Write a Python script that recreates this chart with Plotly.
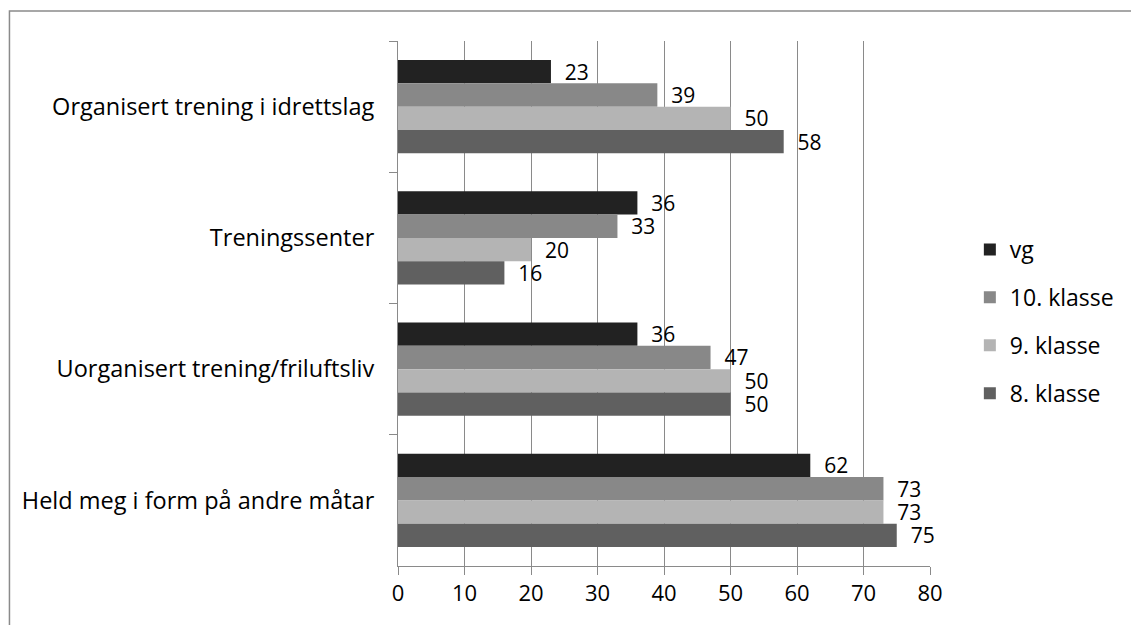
import plotly.graph_objects as go

categories = [
    "Organisert trening i idrettslag",
    "Treningssenter",
    "Uorganisert trening/friluftsliv",
    "Held meg i form på andre måtar",
]
series_names = ["vg", "10. klasse", "9. klasse", "8. klasse"]
vg = [23, 36, 36, 62]
klasse10 = [39, 33, 47, 73]
klasse9 = [50, 20, 50, 73]
klasse8 = [58, 16, 50, 75]
x_ticks = [0, 10, 20, 30, 40, 50, 60, 70, 80]

series_values = [vg, klasse10, klasse9, klasse8]
colors = ["#222222", "#888888", "#b4b4b4", "#606060"]

FONT = "Open Sans"
GRID = "#8a8a8a"

fig = go.Figure()
for name, vals, col in zip(series_names, series_values, colors):
    fig.add_trace(go.Bar(
        y=categories, x=vals, name=name, orientation="h",
        marker=dict(color=col, line=dict(width=0)),
        text=[str(v) for v in vals], textposition="outside",
        texttemplate="  %{x}", constraintext="none",
        textfont=dict(family=FONT, size=21, color="#000000"),
        cliponaxis=False, legendgroup=name,
    ))

W, H = 1131, 625
L, R, T, B = 398, 932, 41, 566
pw, ph = R - L, B - T

def px(x):
    return (x - L) / pw

def py(y):
    return (B - y) / ph

# chart frame: only the top and left edges fall inside the view
fig.add_shape(type="path", xref="paper", yref="paper",
              path=f"M {px(8)},{py(640)} L {px(8)},{py(11)} L {px(1150)},{py(11)}",
              line=dict(color=GRID, width=1.5))

fig.update_layout(
    width=W, height=H,
    margin=dict(l=L, r=W - R, t=T, b=H - B, pad=0),
    paper_bgcolor="white", plot_bgcolor="white",
    barmode="group", bargap=0.29, bargroupgap=0,
    font=dict(family=FONT, size=22, color="#000000"),
    showlegend=True,
    legend=dict(x=px(972), y=py(228), xanchor="left", yanchor="top",
                font=dict(family=FONT, size=23), tracegroupgap=15,
                traceorder="grouped", itemwidth=30),
    xaxis=dict(range=[0, 80], tickvals=x_ticks, showgrid=True, gridcolor=GRID,
               gridwidth=1, ticks="outside", ticklen=8, tickcolor=GRID,
               showline=True, linecolor=GRID, linewidth=1, zeroline=False,
               tickfont=dict(family=FONT, size=22), fixedrange=True),
    yaxis=dict(autorange="reversed", type="category", tickson="boundaries",
               ticks="outside", ticklen=8, tickcolor=GRID, showgrid=False,
               showline=True, linecolor=GRID, linewidth=1,
               ticklabelstandoff=18,
               tickfont=dict(family=FONT, size=23.5)),
)

fig.write_html("out.html")
